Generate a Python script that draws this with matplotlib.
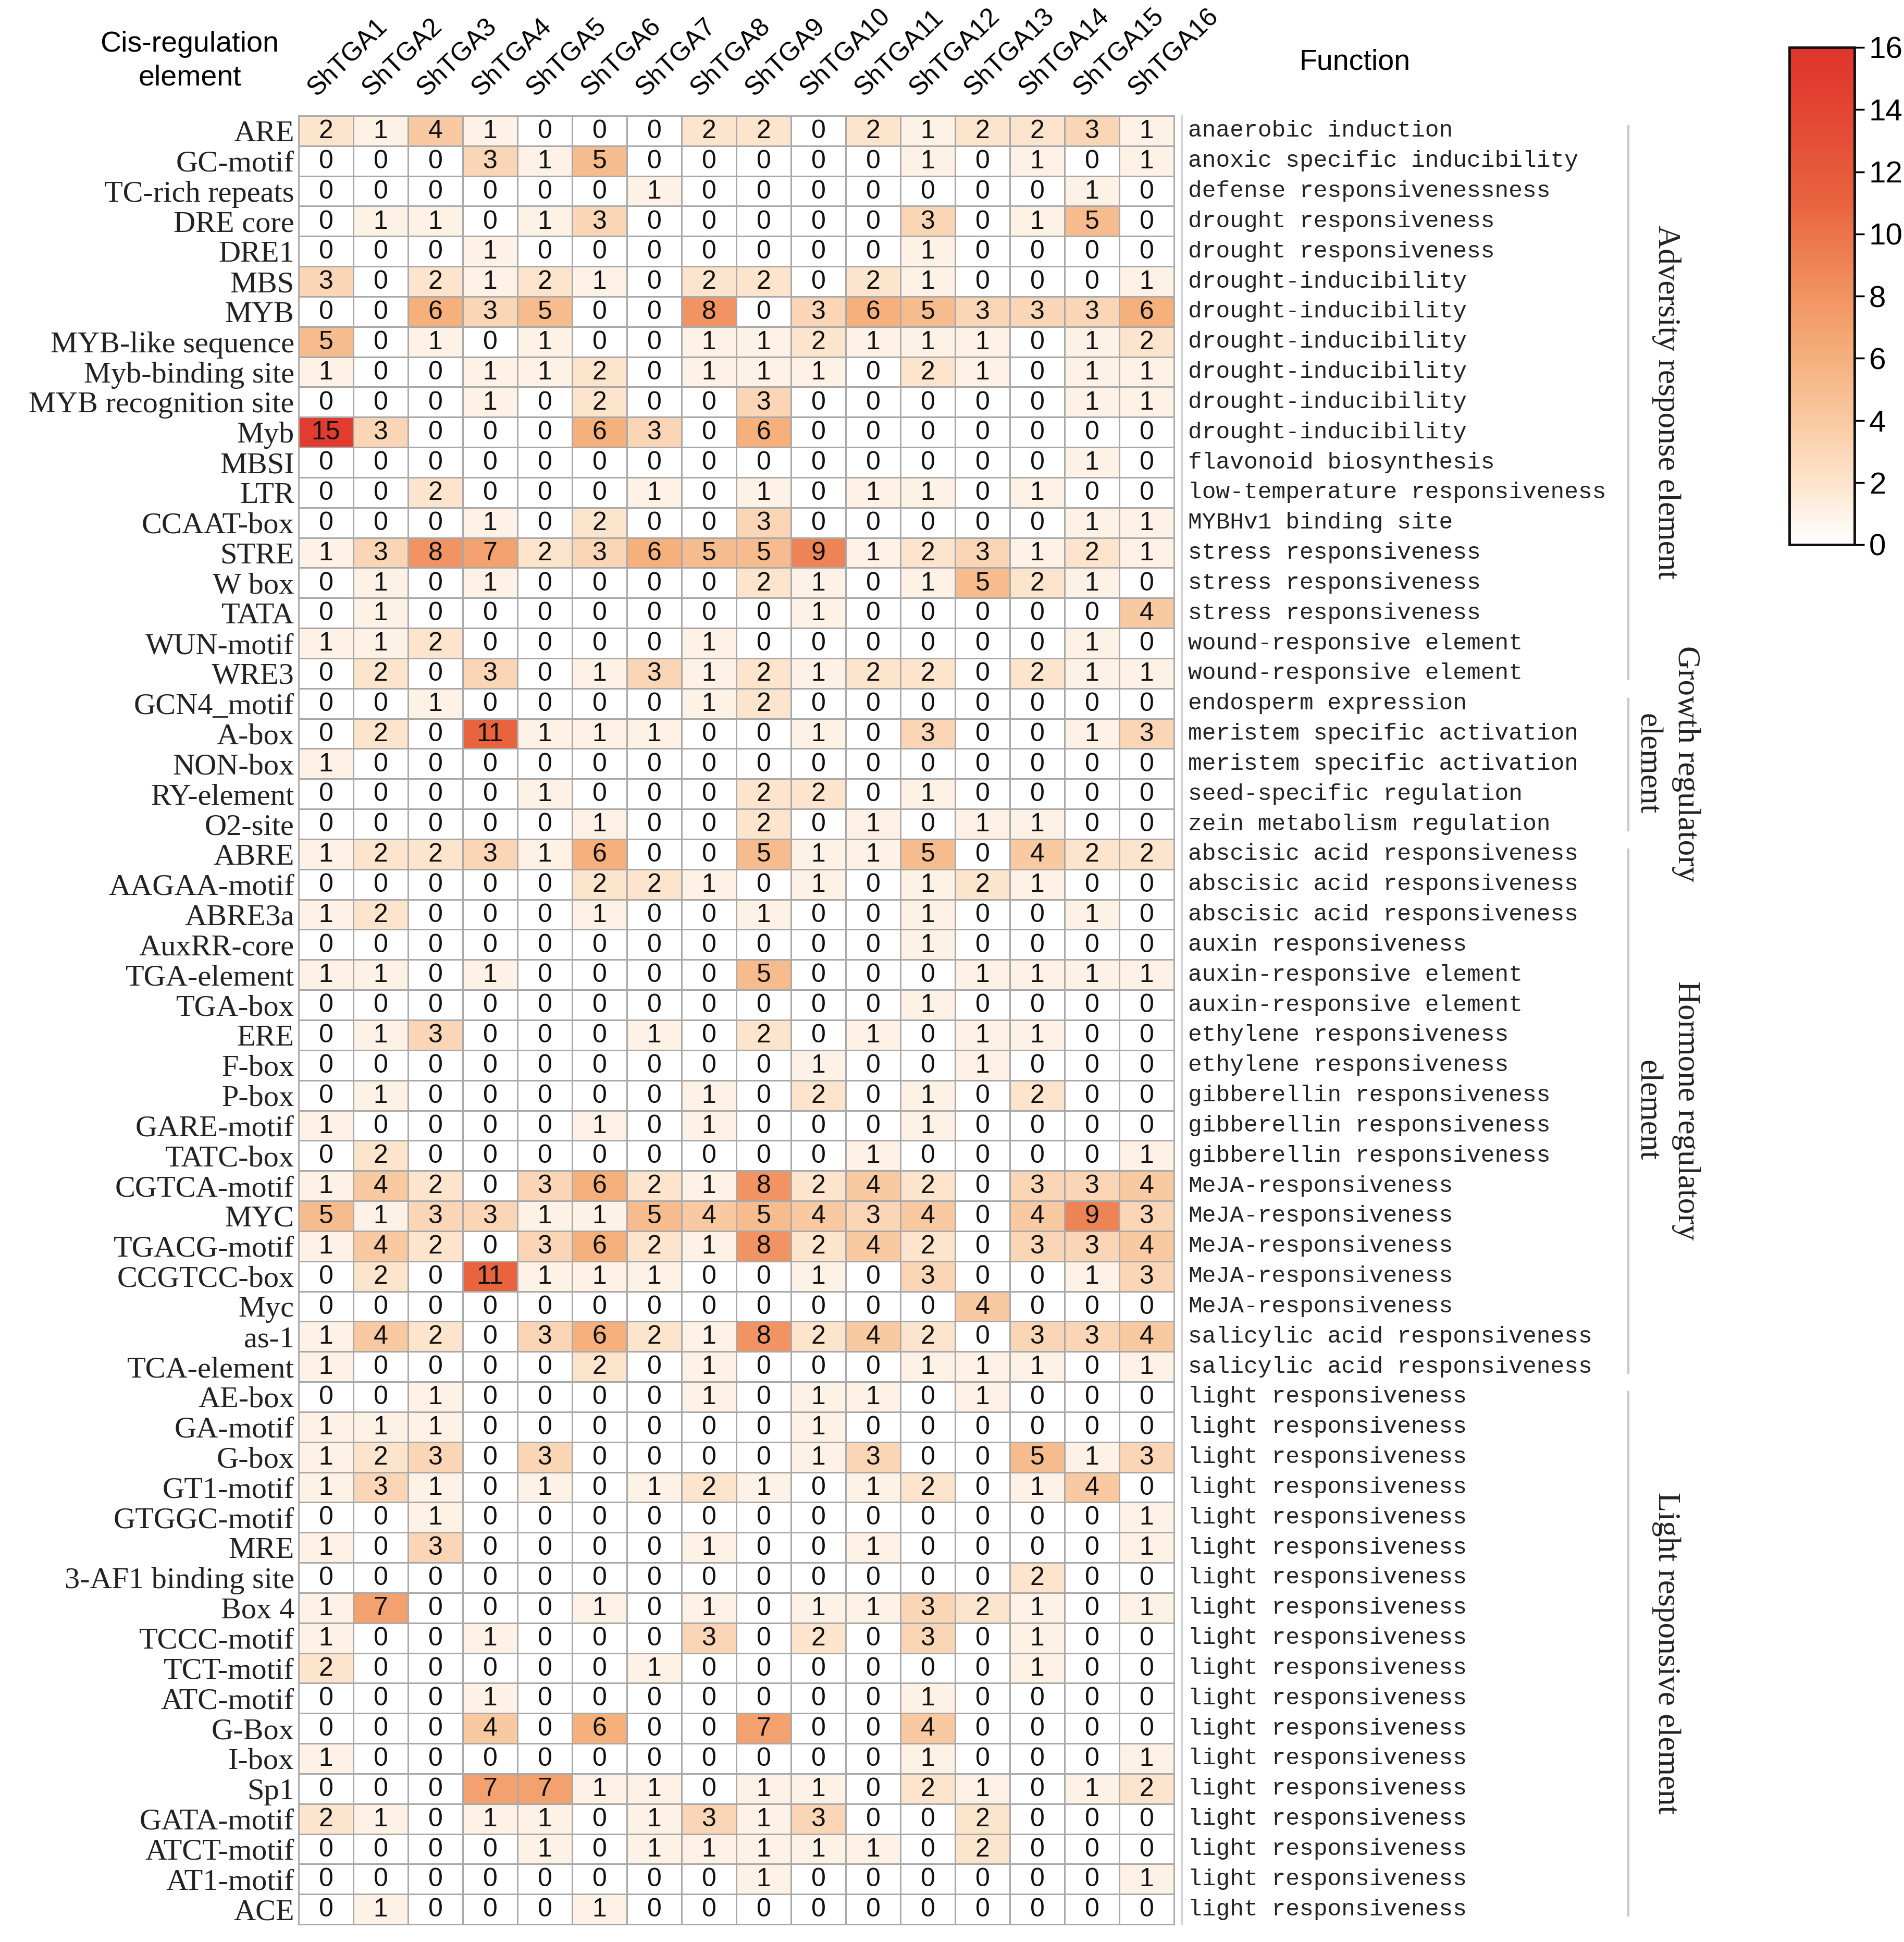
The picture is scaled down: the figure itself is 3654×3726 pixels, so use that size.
import numpy as np
import matplotlib
matplotlib.use("Agg")
import matplotlib.pyplot as plt
from matplotlib.colors import LinearSegmentedColormap

genes = [f"ShTGA{i}" for i in range(1, 17)]

# ---------------- Adversity response element ----------------
adversity_elements = ["ARE", "GC-motif", "TC-rich repeats", "DRE core", "DRE1", "MBS", "MYB",
                      "MYB-like sequence", "Myb-binding site", "MYB recognition site", "Myb",
                      "MBSI", "LTR", "CCAAT-box", "STRE", "W box", "TATA", "WUN-motif", "WRE3"]
adversity_functions = ["anaerobic induction", "anoxic specific inducibility",
                       "defense responsivenessness", "drought responsiveness",
                       "drought responsiveness", "drought-inducibility", "drought-inducibility",
                       "drought-inducibility", "drought-inducibility", "drought-inducibility",
                       "drought-inducibility", "flavonoid biosynthesis",
                       "low-temperature responsiveness", "MYBHv1 binding site",
                       "stress responsiveness", "stress responsiveness", "stress responsiveness",
                       "wound-responsive element", "wound-responsive element"]
adversity_values = [
    [2, 1, 4, 1, 0, 0, 0, 2, 2, 0, 2, 1, 2, 2, 3, 1],
    [0, 0, 0, 3, 1, 5, 0, 0, 0, 0, 0, 1, 0, 1, 0, 1],
    [0, 0, 0, 0, 0, 0, 1, 0, 0, 0, 0, 0, 0, 0, 1, 0],
    [0, 1, 1, 0, 1, 3, 0, 0, 0, 0, 0, 3, 0, 1, 5, 0],
    [0, 0, 0, 1, 0, 0, 0, 0, 0, 0, 0, 1, 0, 0, 0, 0],
    [3, 0, 2, 1, 2, 1, 0, 2, 2, 0, 2, 1, 0, 0, 0, 1],
    [0, 0, 6, 3, 5, 0, 0, 8, 0, 3, 6, 5, 3, 3, 3, 6],
    [5, 0, 1, 0, 1, 0, 0, 1, 1, 2, 1, 1, 1, 0, 1, 2],
    [1, 0, 0, 1, 1, 2, 0, 1, 1, 1, 0, 2, 1, 0, 1, 1],
    [0, 0, 0, 1, 0, 2, 0, 0, 3, 0, 0, 0, 0, 0, 1, 1],
    [15, 3, 0, 0, 0, 6, 3, 0, 6, 0, 0, 0, 0, 0, 0, 0],
    [0, 0, 0, 0, 0, 0, 0, 0, 0, 0, 0, 0, 0, 0, 1, 0],
    [0, 0, 2, 0, 0, 0, 1, 0, 1, 0, 1, 1, 0, 1, 0, 0],
    [0, 0, 0, 1, 0, 2, 0, 0, 3, 0, 0, 0, 0, 0, 1, 1],
    [1, 3, 8, 7, 2, 3, 6, 5, 5, 9, 1, 2, 3, 1, 2, 1],
    [0, 1, 0, 1, 0, 0, 0, 0, 2, 1, 0, 1, 5, 2, 1, 0],
    [0, 1, 0, 0, 0, 0, 0, 0, 0, 1, 0, 0, 0, 0, 0, 4],
    [1, 1, 2, 0, 0, 0, 0, 1, 0, 0, 0, 0, 0, 0, 1, 0],
    [0, 2, 0, 3, 0, 1, 3, 1, 2, 1, 2, 2, 0, 2, 1, 1],
]

# ---------------- Growth regulatory element ----------------
growth_elements = ["GCN4_motif", "A-box", "NON-box", "RY-element", "O2-site"]
growth_functions = ["endosperm expression", "meristem specific activation",
                    "meristem specific activation", "seed-specific regulation",
                    "zein metabolism regulation"]
growth_values = [
    [0, 0, 1, 0, 0, 0, 0, 1, 2, 0, 0, 0, 0, 0, 0, 0],
    [0, 2, 0, 11, 1, 1, 1, 0, 0, 1, 0, 3, 0, 0, 1, 3],
    [1, 0, 0, 0, 0, 0, 0, 0, 0, 0, 0, 0, 0, 0, 0, 0],
    [0, 0, 0, 0, 1, 0, 0, 0, 2, 2, 0, 1, 0, 0, 0, 0],
    [0, 0, 0, 0, 0, 1, 0, 0, 2, 0, 1, 0, 1, 1, 0, 0],
]

# ---------------- Hormone regulatory element ----------------
hormone_elements = ["ABRE", "AAGAA-motif", "ABRE3a", "AuxRR-core", "TGA-element", "TGA-box",
                    "ERE", "F-box", "P-box", "GARE-motif", "TATC-box", "CGTCA-motif", "MYC",
                    "TGACG-motif", "CCGTCC-box", "Myc", "as-1", "TCA-element"]
hormone_functions = ["abscisic acid responsiveness", "abscisic acid responsiveness",
                     "abscisic acid responsiveness", "auxin responsiveness",
                     "auxin-responsive element", "auxin-responsive element",
                     "ethylene responsiveness", "ethylene responsiveness",
                     "gibberellin responsiveness", "gibberellin responsiveness",
                     "gibberellin responsiveness", "MeJA-responsiveness", "MeJA-responsiveness",
                     "MeJA-responsiveness", "MeJA-responsiveness", "MeJA-responsiveness",
                     "salicylic acid responsiveness", "salicylic acid responsiveness"]
hormone_values = [
    [1, 2, 2, 3, 1, 6, 0, 0, 5, 1, 1, 5, 0, 4, 2, 2],
    [0, 0, 0, 0, 0, 2, 2, 1, 0, 1, 0, 1, 2, 1, 0, 0],
    [1, 2, 0, 0, 0, 1, 0, 0, 1, 0, 0, 1, 0, 0, 1, 0],
    [0, 0, 0, 0, 0, 0, 0, 0, 0, 0, 0, 1, 0, 0, 0, 0],
    [1, 1, 0, 1, 0, 0, 0, 0, 5, 0, 0, 0, 1, 1, 1, 1],
    [0, 0, 0, 0, 0, 0, 0, 0, 0, 0, 0, 1, 0, 0, 0, 0],
    [0, 1, 3, 0, 0, 0, 1, 0, 2, 0, 1, 0, 1, 1, 0, 0],
    [0, 0, 0, 0, 0, 0, 0, 0, 0, 1, 0, 0, 1, 0, 0, 0],
    [0, 1, 0, 0, 0, 0, 0, 1, 0, 2, 0, 1, 0, 2, 0, 0],
    [1, 0, 0, 0, 0, 1, 0, 1, 0, 0, 0, 1, 0, 0, 0, 0],
    [0, 2, 0, 0, 0, 0, 0, 0, 0, 0, 1, 0, 0, 0, 0, 1],
    [1, 4, 2, 0, 3, 6, 2, 1, 8, 2, 4, 2, 0, 3, 3, 4],
    [5, 1, 3, 3, 1, 1, 5, 4, 5, 4, 3, 4, 0, 4, 9, 3],
    [1, 4, 2, 0, 3, 6, 2, 1, 8, 2, 4, 2, 0, 3, 3, 4],
    [0, 2, 0, 11, 1, 1, 1, 0, 0, 1, 0, 3, 0, 0, 1, 3],
    [0, 0, 0, 0, 0, 0, 0, 0, 0, 0, 0, 0, 4, 0, 0, 0],
    [1, 4, 2, 0, 3, 6, 2, 1, 8, 2, 4, 2, 0, 3, 3, 4],
    [1, 0, 0, 0, 0, 2, 0, 1, 0, 0, 0, 1, 1, 1, 0, 1],
]

# ---------------- Light responsive element ----------------
light_elements = ["AE-box", "GA-motif", "G-box", "GT1-motif", "GTGGC-motif", "MRE",
                  "3-AF1 binding site", "Box 4", "TCCC-motif", "TCT-motif", "ATC-motif",
                  "G-Box", "I-box", "Sp1", "GATA-motif", "ATCT-motif", "AT1-motif", "ACE"]
light_functions = ["light responsiveness"] * len(light_elements)
light_values = [
    [0, 0, 1, 0, 0, 0, 0, 1, 0, 1, 1, 0, 1, 0, 0, 0],
    [1, 1, 1, 0, 0, 0, 0, 0, 0, 1, 0, 0, 0, 0, 0, 0],
    [1, 2, 3, 0, 3, 0, 0, 0, 0, 1, 3, 0, 0, 5, 1, 3],
    [1, 3, 1, 0, 1, 0, 1, 2, 1, 0, 1, 2, 0, 1, 4, 0],
    [0, 0, 1, 0, 0, 0, 0, 0, 0, 0, 0, 0, 0, 0, 0, 1],
    [1, 0, 3, 0, 0, 0, 0, 1, 0, 0, 1, 0, 0, 0, 0, 1],
    [0, 0, 0, 0, 0, 0, 0, 0, 0, 0, 0, 0, 0, 2, 0, 0],
    [1, 7, 0, 0, 0, 1, 0, 1, 0, 1, 1, 3, 2, 1, 0, 1],
    [1, 0, 0, 1, 0, 0, 0, 3, 0, 2, 0, 3, 0, 1, 0, 0],
    [2, 0, 0, 0, 0, 0, 1, 0, 0, 0, 0, 0, 0, 1, 0, 0],
    [0, 0, 0, 1, 0, 0, 0, 0, 0, 0, 0, 1, 0, 0, 0, 0],
    [0, 0, 0, 4, 0, 6, 0, 0, 7, 0, 0, 4, 0, 0, 0, 0],
    [1, 0, 0, 0, 0, 0, 0, 0, 0, 0, 0, 1, 0, 0, 0, 1],
    [0, 0, 0, 7, 7, 1, 1, 0, 1, 1, 0, 2, 1, 0, 1, 2],
    [2, 1, 0, 1, 1, 0, 1, 3, 1, 3, 0, 0, 2, 0, 0, 0],
    [0, 0, 0, 0, 1, 0, 1, 1, 1, 1, 1, 0, 2, 0, 0, 0],
    [0, 0, 0, 0, 0, 0, 0, 0, 1, 0, 0, 0, 0, 0, 0, 1],
    [0, 1, 0, 0, 0, 1, 0, 0, 0, 0, 0, 0, 0, 0, 0, 0],
]

group_names = ["Adversity response element", "Growth regulatory\nelement",
               "Hormone regulatory\nelement", "Light responsive element"]
group_elements = [adversity_elements, growth_elements, hormone_elements, light_elements]
group_functions = [adversity_functions, growth_functions, hormone_functions, light_functions]
group_values = [adversity_values, growth_values, hormone_values, light_values]

elements = sum(group_elements, [])
functions = sum(group_functions, [])
data = np.vstack([np.array(v) for v in group_values])
n_rows, n_cols = data.shape

cmap = LinearSegmentedColormap.from_list("whorrd", [
    (0.0, "#ffffff"), (0.125, "#fde4cc"), (0.25, "#f9c9a1"), (0.375, "#f5b07c"),
    (0.5, "#f19462"), (0.6875, "#e9633f"), (0.9375, "#e23b2f"), (1.0, "#e0362c")])

W, H = 3655, 3726
fig = plt.figure(figsize=(W / 100, H / 100), dpi=100)
fig.patch.set_facecolor("white")

ax = fig.add_axes([573 / W, 1 - 3692 / H, 1680 / W, 3470 / H])
ax.pcolormesh(np.arange(n_cols + 1), np.arange(n_rows + 1), data, cmap=cmap, vmin=0, vmax=16,
              edgecolors="#a9a9a9", linewidth=2)
ax.set_xlim(0, n_cols)
ax.set_ylim(n_rows, 0)
for s in ax.spines.values():
    s.set_color("#a9a9a9")
    s.set_linewidth(2)

num_font = ["Liberation Sans Narrow", "Liberation Sans", "DejaVu Sans"]
for i in range(n_rows):
    for j in range(n_cols):
        ax.text(j + 0.5, i + 0.52, str(data[i, j]), ha="center", va="center",
                fontsize=36, family=num_font, color="#111111")

ax.set_yticks(np.arange(n_rows) + 0.5)
ax.set_yticklabels(elements, family=["Liberation Serif", "DejaVu Serif"], fontsize=42,
                   color="#222222")
ax.tick_params(axis="y", length=0, pad=6)
ax.set_xticks([])

for j, g in enumerate(genes):
    ax.text(j + 0.4, -0.5, g, rotation=44, rotation_mode="anchor", ha="left", va="bottom",
            fontsize=36, family=["Liberation Sans", "DejaVu Sans"], clip_on=False)

# function labels
for i, f in enumerate(functions):
    ax.text(16.26, i + 0.5, f, ha="left", va="center", fontsize=32,
            family=["Liberation Mono", "DejaVu Sans Mono"], color="#222222", clip_on=False)
ax.plot([16.14, 16.14], [0, n_rows], color="#cfcfcf", lw=2, clip_on=False)

# group brackets
starts = np.cumsum([0] + [len(e) for e in group_elements])
for k, name in enumerate(group_names):
    r0, r1 = starts[k], starts[k + 1]
    ax.plot([24.3, 24.3], [r0 + 0.35, r1 - 0.3], color="#c8c8c8", lw=3, clip_on=False)
    ax.text(25.0, (r0 + r1) / 2, name, rotation=270, ha="center", va="center",
            fontsize=44, family=["Liberation Serif", "DejaVu Serif"], color="#222222",
            linespacing=1.45, multialignment="center", clip_on=False)

# headers
fig.text(364 / W, 1 - 117 / H, "Cis-regulation\nelement", ha="center", va="center",
         fontsize=40, family=["Liberation Sans", "DejaVu Sans"], linespacing=1.3)
fig.text(2600 / W, 1 - 119 / H, "Function", ha="center", va="center",
         fontsize=40, family=["Liberation Sans", "DejaVu Sans"])

# colorbar
cax = fig.add_axes([3434 / W, 1 - 1045 / H, 125 / W, 954 / H])
sm = matplotlib.cm.ScalarMappable(cmap=cmap, norm=matplotlib.colors.Normalize(0, 16))
cb = fig.colorbar(sm, cax=cax, ticks=np.arange(0, 17, 2))
cb.outline.set_linewidth(3.5)
cb.outline.set_edgecolor("#111111")
cax.tick_params(labelsize=42, length=14, width=2.5, pad=6)
for t in cax.get_yticklabels():
    t.set_family(["Liberation Sans", "DejaVu Sans"])

fig.savefig("out.png", dpi=100, facecolor="white")
